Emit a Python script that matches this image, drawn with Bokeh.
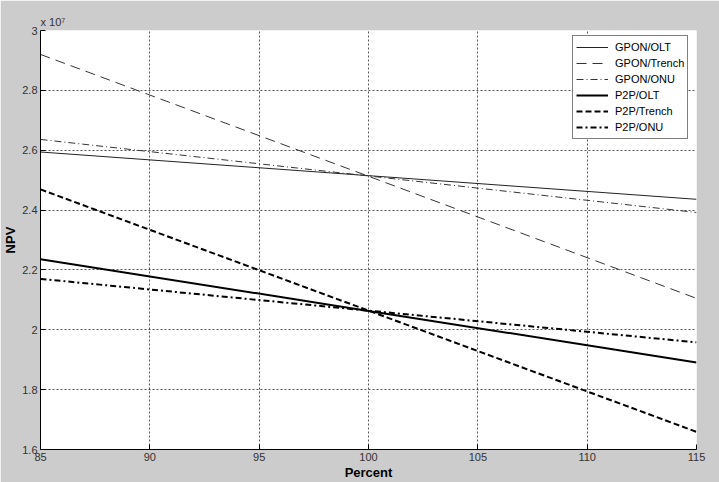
from bokeh.plotting import figure
from bokeh.models import Range1d, FixedTicker, CustomJSTickFormatter, Legend, LegendItem, Title
from bokeh.embed import file_html
from bokeh.resources import INLINE

# Data (NPV in units of 1e7)
percent = [85, 100, 115]
gpon_olt = [2.594, 2.515, 2.436]
gpon_trench = [2.920, 2.513, 2.105]
gpon_onu = [2.636, 2.514, 2.392]
p2p_olt = [2.236, 2.063, 1.891]
p2p_trench = [2.469, 2.064, 1.659]
p2p_onu = [2.170, 2.064, 1.958]

x_ticks = [85, 90, 95, 100, 105, 110, 115]
y_ticks = [1.6, 1.8, 2.0, 2.2, 2.4, 2.6, 2.8, 3.0]

FONT = "Liberation Sans"

p = figure(width=719, height=482, output_backend="svg", toolbar_location=None,
           x_range=Range1d(85, 115), y_range=Range1d(1.6, 3.0),
           min_border_left=40, min_border_right=23, min_border_top=30, min_border_bottom=33)

p.border_fill_color = "#cccccc"
p.background_fill_color = "white"
p.outline_line_color = None

series = [
    ("GPON/OLT", gpon_olt, "#222222", 1, "solid"),
    ("GPON/Trench", gpon_trench, "#333333", 1, "10 6"),
    ("GPON/ONU", gpon_onu, "#333333", 1, "7 3 1 3"),
    ("P2P/OLT", p2p_olt, "black", 2, "solid"),
    ("P2P/Trench", p2p_trench, "black", 2, "6 3"),
    ("P2P/ONU", p2p_onu, "black", 2, "6 3 2 3"),
]

items = []
for name, vals, col, w, dash in series:
    r = p.line(percent, vals, line_color=col, line_width=w, line_dash=dash)
    items.append(LegendItem(label=name, renderers=[r]))

legend = Legend(items=items, location=(532, 310))
legend.label_text_font = FONT
legend.label_text_font_size = "11px"
legend.label_text_color = "black"
legend.glyph_width = 32
legend.glyph_height = 16
legend.label_height = 16
legend.label_standoff = 7
legend.spacing = 0
legend.padding = 3
legend.margin = 0
legend.border_line_color = "black"
legend.border_line_width = 1
legend.background_fill_color = "white"
legend.background_fill_alpha = 1
p.add_layout(legend, "center")

p.xaxis.ticker = FixedTicker(ticks=x_ticks)
p.yaxis.ticker = FixedTicker(ticks=y_ticks)
p.yaxis.formatter = CustomJSTickFormatter(code="return String(Math.round(tick*10)/10);")

for ax in (p.xaxis[0], p.yaxis[0]):
    ax.axis_line_color = "black"
    ax.axis_line_width = 1
    ax.major_tick_in = 5
    ax.major_tick_out = 0
    ax.major_tick_line_color = "black"
    ax.minor_tick_line_color = None
    ax.major_label_text_font = FONT
    ax.major_label_text_font_size = "11px"
    ax.major_label_text_color = "#333333"
    ax.axis_label_text_font = FONT
    ax.axis_label_text_font_size = "13px"
    ax.axis_label_text_font_style = "bold"
    ax.axis_label_text_color = "black"

p.xaxis.axis_label = "Percent"
p.yaxis.axis_label = "NPV"
p.xaxis.major_label_standoff = 3
p.xaxis.axis_label_standoff = 1
p.yaxis.major_label_standoff = 3
p.yaxis.axis_label_standoff = 1

p.grid.grid_line_color = "#555555"
p.grid.grid_line_dash = "2 2"
p.grid.grid_line_width = 1

p.add_layout(Title(text="x 10\u2077", align="left", offset=0, standoff=5,
                   text_font=FONT, text_font_size="11px", text_font_style="normal",
                   text_color="#333333"), "above")

open("out.html", "w").write(file_html(p, INLINE))
